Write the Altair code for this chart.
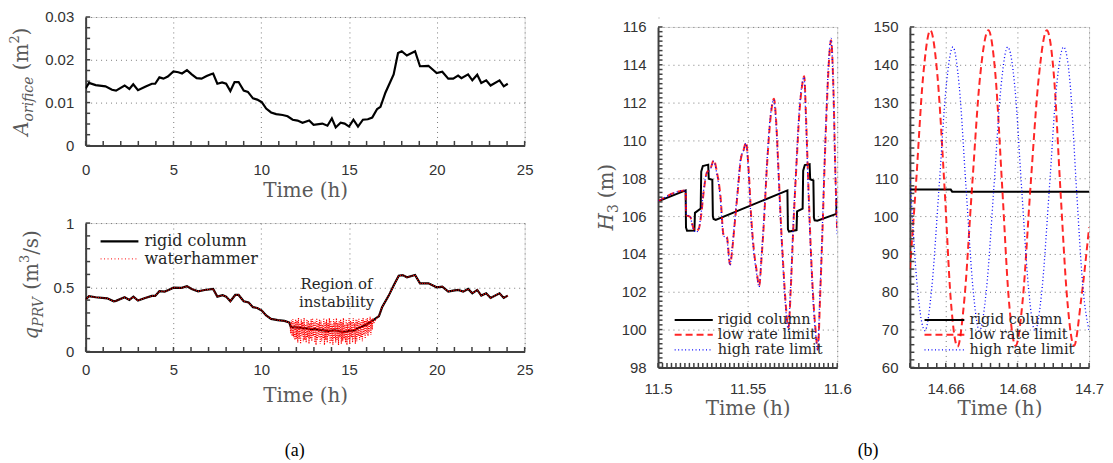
import altair as alt
import pandas as pd

# ---------------- (a) top: orifice area ----------------
a_time = [0, 0.19, 0.57, 1.13, 1.5, 1.73, 2.22, 2.49, 2.71, 2.98, 3.39, 3.77, 3.96, 4.2, 4.43, 4.68,
          5.0, 5.28, 5.49, 5.77, 6.04, 6.32, 6.6, 6.89, 7.17, 7.26, 7.5, 7.77, 8.0, 8.24, 8.48, 8.71,
          9.0, 9.24, 9.53, 9.77, 10.03, 10.28, 10.56, 10.85, 11.22, 11.5, 11.79, 12.07, 12.35, 12.73,
          12.98, 13.48, 13.77, 14.02, 14.24, 14.52, 14.75, 15.0, 15.25, 15.51, 15.79, 16.07, 16.32,
          16.6, 16.79, 17.07, 17.54, 17.79, 18.0, 18.29, 18.76, 19.04, 19.52, 19.99, 20.31, 20.65,
          20.93, 21.21, 21.4, 21.78, 22.02, 22.3, 22.53, 22.81, 23.06, 23.57, 23.81, 24.04]
a_area = [0.0133, 0.0146, 0.0141, 0.0138, 0.0130, 0.0128, 0.0140, 0.0132, 0.0143, 0.0129, 0.0137,
          0.0144, 0.0144, 0.0159, 0.0156, 0.0161, 0.0173, 0.0171, 0.0168, 0.0176, 0.0166, 0.0157,
          0.0156, 0.0162, 0.0167, 0.0168, 0.0144, 0.0147, 0.0144, 0.0127, 0.0148, 0.0148, 0.0128,
          0.0125, 0.0110, 0.0107, 0.0101, 0.0086, 0.0077, 0.0073, 0.0071, 0.0068, 0.0060, 0.0058,
          0.0053, 0.0058, 0.0048, 0.0051, 0.0046, 0.0063, 0.0042, 0.0053, 0.0051, 0.0044, 0.0060,
          0.0044, 0.0060, 0.0061, 0.0065, 0.0085, 0.0090, 0.0123, 0.0166, 0.0216, 0.0220, 0.0210,
          0.0220, 0.0185, 0.0186, 0.0169, 0.0172, 0.0156, 0.0156, 0.0163, 0.0157, 0.0166, 0.0152,
          0.0165, 0.0146, 0.0152, 0.0140, 0.0152, 0.0138, 0.0144]

# ---------------- (a) bottom: PRV flow ----------------
q_time = [0, 0.19, 0.57, 1.23, 1.6, 1.73, 2.22, 2.49, 2.72, 2.98, 3.39, 3.77, 3.96, 4.2, 4.5, 4.72,
          5.0, 5.47, 5.77, 6.04, 6.4, 6.78, 7.26, 7.5, 7.8, 8.0, 8.24, 8.52, 8.71, 9.0, 9.28, 9.53,
          9.77, 10.03, 10.28, 10.56, 10.94, 11.32, 11.6, 11.69, 12.2, 12.82, 13.3, 13.77, 14.2,
          14.71, 15.0, 15.28, 15.65, 16.0, 16.4, 16.6, 16.7, 16.88, 17.26, 17.54, 17.83, 18.05,
          18.3, 18.76, 19.04, 19.52, 19.99, 20.31, 20.65, 20.93, 21.21, 21.5, 21.78, 22.02, 22.3,
          22.53, 22.81, 23.06, 23.57, 23.81, 24.04]
q_rigid = [0.404, 0.430, 0.422, 0.414, 0.391, 0.394, 0.422, 0.402, 0.427, 0.396, 0.417, 0.433,
           0.433, 0.469, 0.466, 0.479, 0.497, 0.495, 0.508, 0.487, 0.469, 0.479, 0.487, 0.427,
           0.438, 0.427, 0.391, 0.440, 0.440, 0.391, 0.381, 0.345, 0.339, 0.319, 0.280, 0.254,
           0.244, 0.238, 0.225, 0.189, 0.185, 0.176, 0.170, 0.158, 0.165, 0.150, 0.160, 0.163,
           0.189, 0.210, 0.246, 0.265, 0.274, 0.344, 0.435, 0.513, 0.590, 0.595, 0.578, 0.595,
           0.531, 0.531, 0.500, 0.505, 0.466, 0.474, 0.479, 0.466, 0.487, 0.453, 0.479, 0.435,
           0.453, 0.417, 0.453, 0.417, 0.435]

# waterhammer oscillation inside the region of instability
wh_time = [11.64, 11.68, 11.72, 11.76, 11.80, 11.84, 11.88, 11.92, 11.96, 12.00,
           12.04, 12.08, 12.12, 12.16, 12.20, 12.24, 12.28, 12.32, 12.36, 12.40,
           12.44, 12.48, 12.52, 12.56, 12.60, 12.64, 12.68, 12.72, 12.76, 12.80,
           12.84, 12.88, 12.92, 12.96, 13.00, 13.04, 13.08, 13.12, 13.16, 13.20,
           13.24, 13.28, 13.32, 13.36, 13.40, 13.44, 13.48, 13.52, 13.56, 13.60,
           13.64, 13.68, 13.72, 13.76, 13.80, 13.84, 13.88, 13.92, 13.96, 14.00,
           14.04, 14.08, 14.12, 14.16, 14.20, 14.24, 14.28, 14.32, 14.36, 14.40,
           14.44, 14.48, 14.52, 14.56, 14.60, 14.64, 14.68, 14.72, 14.76, 14.80,
           14.84, 14.88, 14.92, 14.96, 15.00, 15.04, 15.08, 15.12, 15.16, 15.20,
           15.24, 15.28, 15.32, 15.36, 15.40, 15.44, 15.48, 15.52, 15.56, 15.60,
           15.64, 15.68, 15.72, 15.76, 15.80, 15.84, 15.88, 15.92, 15.96, 16.00,
           16.04, 16.08, 16.12, 16.16, 16.20, 16.24, 16.28, 16.32, 16.36, 16.40]
wh_q = [0.22, 0.14, 0.24, 0.12, 0.25, 0.11, 0.23, 0.09, 0.25, 0.10,
        0.24, 0.07, 0.26, 0.10, 0.22, 0.06, 0.25, 0.12, 0.23, 0.08,
        0.26, 0.09, 0.21, 0.07, 0.25, 0.11, 0.24, 0.06, 0.22, 0.10,
        0.25, 0.08, 0.26, 0.12, 0.23, 0.07, 0.24, 0.05, 0.26, 0.09,
        0.22, 0.11, 0.25, 0.06, 0.24, 0.08, 0.21, 0.10, 0.26, 0.05,
        0.23, 0.09, 0.25, 0.07, 0.22, 0.12, 0.26, 0.06, 0.24, 0.08,
        0.21, 0.05, 0.25, 0.10, 0.23, 0.07, 0.26, 0.09, 0.22, 0.05,
        0.24, 0.11, 0.25, 0.06, 0.23, 0.08, 0.26, 0.10, 0.21, 0.07,
        0.25, 0.05, 0.22, 0.09, 0.26, 0.06, 0.24, 0.11, 0.23, 0.07,
        0.26, 0.10, 0.22, 0.06, 0.25, 0.08, 0.24, 0.12, 0.26, 0.09,
        0.23, 0.11, 0.25, 0.08, 0.26, 0.13, 0.24, 0.10, 0.25, 0.14,
        0.26, 0.12, 0.24, 0.15, 0.27, 0.13, 0.25, 0.17, 0.26, 0.22]

# ---------------- (b) left: t = 11.5 .. 11.6 h ----------------
b1_rigid_t = [11.5000, 11.5154, 11.5156, 11.5162, 11.5203, 11.5206, 11.5238, 11.5241, 11.5250,
              11.5280, 11.5283, 11.5303, 11.5306, 11.5310, 11.5322, 11.5722, 11.5725, 11.5731,
              11.5773, 11.5776, 11.5807, 11.5810, 11.5819, 11.5846, 11.5849, 11.5867, 11.5870,
              11.5874, 11.5889, 11.5995, 11.5997]
b1_rigid_h = [106.78, 107.36, 105.40, 105.22, 105.24, 106.17, 106.40, 108.35, 108.65, 108.72,
              107.97, 107.92, 105.98, 105.85, 105.80, 107.36, 105.30, 105.18, 105.26, 106.25,
              106.40, 108.40, 108.70, 108.74, 107.95, 107.88, 105.92, 105.78, 105.76, 106.12,
              106.96]
b1_low_t = [11.5000, 11.5154, 11.5157, 11.5180, 11.5196, 11.5213, 11.5228, 11.5240, 11.5255,
            11.5272, 11.5292, 11.5312, 11.5328, 11.5348, 11.5366, 11.5384, 11.5402, 11.5415,
            11.5426, 11.5444, 11.5462, 11.5478, 11.5491, 11.5506, 11.5519, 11.5535, 11.5549,
            11.5565, 11.5577, 11.5590, 11.5609, 11.5628, 11.5647, 11.5660, 11.5672, 11.5686,
            11.5700, 11.5713, 11.5728, 11.5741, 11.5756, 11.5772, 11.5790, 11.5804, 11.5816,
            11.5826, 11.5838, 11.5852, 11.5866, 11.5880, 11.5892, 11.5904, 11.5917, 11.5930,
            11.5944, 11.5956, 11.5966, 11.5978, 11.5990, 11.6000]
b1_low_h = [106.78, 107.36, 106.05, 105.95, 105.40, 105.20, 105.35, 106.00, 107.30, 108.30,
            108.50, 108.96, 108.35, 107.10, 105.00, 104.90, 103.45, 104.30, 105.40, 107.20,
            109.00, 109.50, 109.90, 108.40, 106.10, 104.20, 103.20, 102.30, 103.70, 105.50,
            108.80, 111.20, 112.20, 110.90, 108.50, 105.60, 103.20, 101.30, 100.10, 102.20,
            105.60, 108.60, 111.60, 112.90, 113.40, 111.20, 107.90, 104.40, 101.70, 99.90,
            98.95, 101.60, 105.00, 108.80, 112.30, 114.50, 115.30, 113.00, 108.20, 105.20]
b1_high_t = [11.5000, 11.5154, 11.5157, 11.5180, 11.5195, 11.5212, 11.5227, 11.5239, 11.5254,
             11.5271, 11.5291, 11.5310, 11.5327, 11.5347, 11.5365, 11.5383, 11.5401, 11.5414,
             11.5425, 11.5443, 11.5461, 11.5477, 11.5490, 11.5505, 11.5518, 11.5534, 11.5548,
             11.5564, 11.5576, 11.5589, 11.5608, 11.5627, 11.5646, 11.5659, 11.5671, 11.5685,
             11.5699, 11.5712, 11.5727, 11.5740, 11.5755, 11.5771, 11.5789, 11.5803, 11.5815,
             11.5825, 11.5837, 11.5851, 11.5865, 11.5879, 11.5891, 11.5903, 11.5916, 11.5929,
             11.5943, 11.5955, 11.5965, 11.5977, 11.5989, 11.6000]
b1_high_h = [106.78, 107.36, 106.10, 105.95, 105.35, 105.15, 105.30, 106.05, 107.35, 108.25,
             108.45, 108.90, 108.30, 107.00, 104.95, 104.85, 103.40, 104.35, 105.45, 107.30,
             109.05, 109.45, 109.85, 108.30, 106.00, 104.10, 103.10, 102.25, 103.75, 105.60,
             108.90, 111.30, 112.15, 110.80, 108.40, 105.50, 103.10, 101.20, 100.00, 102.30,
             105.70, 108.70, 111.70, 112.95, 113.35, 111.10, 107.80, 104.30, 101.60, 99.80,
             98.90, 101.70, 105.10, 108.90, 112.40, 114.60, 115.40, 113.10, 108.30, 105.00]

# ---------------- (b) right: t = 14.65 .. 14.7 h ----------------
b2_rigid_t = [14.6500, 14.6614, 14.6618, 14.7000]
b2_rigid_h = [107.0, 107.0, 106.45, 106.45]
b2_low_t = [14.6500, 14.6516, 14.6537, 14.6557, 14.6577, 14.6597, 14.6614, 14.6633, 14.6652,
            14.6673, 14.6696, 14.6719, 14.6739, 14.6758, 14.6776, 14.6795, 14.6815, 14.6836,
            14.6860, 14.6882, 14.6902, 14.6920, 14.6939, 14.6958, 14.6978, 14.7000]
b2_low_h = [86.0, 107.0, 137.0, 149.1, 137.0, 107.0, 78.0, 65.5, 78.0, 107.0, 137.0, 149.1, 137.0,
            107.0, 78.0, 65.7, 78.0, 107.0, 137.0, 149.1, 137.0, 107.0, 78.0, 65.7, 78.0, 97.0]
b2_high_t = [14.6500, 14.6521, 14.6542, 14.6561, 14.6581, 14.6601, 14.6620, 14.6638, 14.6657,
             14.6676, 14.6694, 14.6714, 14.6734, 14.6754, 14.6773, 14.6793, 14.6812, 14.6831,
             14.6849, 14.6869, 14.6889, 14.6909, 14.6929, 14.6948, 14.6965, 14.6983, 14.7000]
b2_high_h = [111.0, 81.0, 69.7, 81.0, 107.0, 134.0, 144.7, 134.0, 107.0, 81.0, 69.7, 81.0, 107.0,
             134.0, 144.7, 134.0, 107.0, 81.0, 69.7, 81.0, 107.0, 134.0, 144.7, 134.0, 107.0,
             81.0, 69.7]

# ---------------- styling ----------------
SERIF = "DejaVu Serif"
SANS = "Liberation Sans"
AXC = "#404040"
LBL = "#333333"
TTL = "#595959"
ONE = pd.DataFrame({"k": [0]})
WID = {"A": 0.722, "o": 0.602, "r": 0.478, "i": 0.320, "f": 0.370, "c": 0.560, "e": 0.592,
       "(": 0.390, ")": 0.390, "m": 0.948, "2": 0.636, "3": 0.636, "q": 0.640, "P": 0.733,
       "R": 0.770, "V": 0.722, "/": 0.337, "s": 0.514, "H": 0.872}


def frame(t, v):
    return pd.DataFrame({"t": t, "v": v, "i": list(range(len(t)))})


def xaxis(values, label_pad, title_y):
    return alt.Axis(values=values, format="~r", title="Time (h)", grid=True, gridColor="#7a7a7a",
                    gridDash=[1, 4], gridWidth=1, domainColor=AXC, domainWidth=2, ticks=False,
                    tickSize=0, labelFont=SANS, labelFontSize=15, labelColor=LBL,
                    labelPadding=label_pad, labelFlush=False, labelOverlap=False,
                    titleFont=SERIF, titleFontSize=20, titleFontWeight="normal", titleColor=TTL,
                    titleY=title_y, titleBaseline="alphabetic")


def yaxis(values):
    return alt.Axis(values=values, format="~r", title=None, grid=True, gridColor="#7a7a7a",
                    gridDash=[1, 4], gridWidth=1, domainColor=AXC, domainWidth=2, ticks=False,
                    tickSize=0, labelFont=SANS, labelFontSize=15, labelColor=LBL,
                    labelPadding=12, labelFlush=False, labelOverlap=False)


def line(df, xs, ys, xa, ya, **mk):
    return alt.Chart(df).mark_line(clip=True, **mk).encode(
        x=alt.X("t:Q", scale=xs, axis=xa), y=alt.Y("v:Q", scale=ys, axis=ya),
        order=alt.Order("i:Q"))


def xticks(vals, xs, xa, h):
    return alt.Chart(pd.DataFrame({"t": vals})).mark_rule(color=AXC, strokeWidth=1.5).encode(
        x=alt.X("t:Q", scale=xs, axis=xa), y=alt.value(h), y2=alt.value(h - 4.5))


def yticks(vals, ys, ya):
    return alt.Chart(pd.DataFrame({"v": vals})).mark_rule(color=AXC, strokeWidth=1.5).encode(
        y=alt.Y("v:Q", scale=ys, axis=ya), x=alt.value(0), x2=alt.value(4.5))


def txt(s, x, y, size=15, font=SERIF, color="#262626", align="left", baseline="middle",
        angle=0, style="normal"):
    kw = dict(text=s, fontSize=size, font=font, color=color, align=align, baseline=baseline,
              fontStyle=style)
    if angle:
        kw["angle"] = angle
    return alt.Chart(ONE).mark_text(**kw).encode(x=alt.value(x), y=alt.value(y))


def hrule(x1, x2, y, **mk):
    return alt.Chart(ONE).mark_rule(**mk).encode(x=alt.value(x1), x2=alt.value(x2), y=alt.value(y))


def rot_title(pieces, xb, yc):
    # pieces: (text, italic, size, perpendicular shift, gap before)
    lens = [sum(WID.get(c, 0.6) for c in p[0]) * p[2] + p[4] for p in pieces]
    y = yc + sum(lens) / 2
    out = []
    for (s, it, size, shift, gap), L in zip(pieces, lens):
        y -= gap
        out.append(txt(s, xb + shift, y, size=size, color=TTL, align="left",
                       baseline="alphabetic", angle=270, style="italic" if it else "normal"))
        y -= L - gap
    return out


# ---------------- (a) top panel ----------------
WL, HT, HB = 441, 129, 129
xs_a = alt.Scale(domain=[0, 25], nice=False, zero=False)
xa_a = xaxis([0, 5, 10, 15, 20, 25], 17, 51)
ys_t = alt.Scale(domain=[0, 0.03], nice=False, zero=False)
ya_t = yaxis([0, 0.01, 0.02, 0.03])
top = alt.layer(
    line(frame(a_time, a_area), xs_a, ys_t, xa_a, ya_t, color="black", strokeWidth=2.2),
    xticks([k for k in range(0, 26)], xs_a, xa_a, HT),
    yticks([k * 0.0025 for k in range(0, 13)], ys_t, ya_t),
    *rot_title([("A", True, 20, 0, 0), ("orifice", True, 14, 5, 0), ("(m", False, 20, 0, 6),
                ("2", False, 13, -9, 0), (")", False, 20, 0, 0)], -58, 65),
).properties(width=WL, height=HT)

# ---------------- (a) bottom panel ----------------
ys_b = alt.Scale(domain=[0, 1], nice=False, zero=False)
ya_b = yaxis([0, 0.5, 1])
xa_b = xaxis([0, 5, 10, 15, 20, 25], 11, 50)
wh_t = [t for t in q_time if t < 11.62] + wh_time + [t for t in q_time if t > 16.42]
wh_v = [v for t, v in zip(q_time, q_rigid) if t < 11.62] + wh_q + \
       [v for t, v in zip(q_time, q_rigid) if t > 16.42]
bottom = alt.layer(
    line(frame(q_time, q_rigid), xs_a, ys_b, xa_b, ya_b, color="black", strokeWidth=2.2),
    line(frame(wh_t, wh_v), xs_a, ys_b, xa_b, ya_b, color="#ff0000", strokeWidth=1.2,
         strokeDash=[1, 1.3]),
    xticks([k for k in range(0, 26)], xs_a, xa_b, HB),
    yticks([k * 0.1 for k in range(0, 11)], ys_b, ya_b),
    hrule(15, 53, 18.4, color="black", strokeWidth=2.2),
    hrule(15, 53, 36, color="#ff0000", strokeWidth=1, strokeDash=[1, 2.5]),
    txt("rigid column", 59, 18.4, size=16),
    txt("waterhammer", 59, 36, size=16),
    txt("Region of", 252, 61, size=15, align="center"),
    txt("instability", 252, 79.5, size=15, align="center"),
    txt("(a)", 210, 229, size=18, font="Liberation Serif", color="black", align="center"),
    *rot_title([("q", True, 20, 0, 0), ("PRV", True, 14, 5, 0), ("(m", False, 20, 0, 6),
                ("3", False, 13, -9, 0), ("/s)", False, 20, 0, 0)], -48, 62),
).properties(width=WL, height=HB)

left = alt.vconcat(top, bottom, spacing=78, bounds="flush")

# ---------------- (b) panels ----------------
WR, HR = 180, 342
LEG = 14.5
xs_1 = alt.Scale(domain=[11.5, 11.6], nice=False, zero=False)
xa_1 = xaxis([11.5, 11.55, 11.6], 14, 47)
ys_1 = alt.Scale(domain=[98, 116], nice=False, zero=False)
ya_1 = yaxis(list(range(98, 117, 2)))
r1 = alt.layer(
    line(frame(b1_rigid_t, b1_rigid_h), xs_1, ys_1, xa_1, ya_1, color="black", strokeWidth=2),
    line(frame(b1_low_t, b1_low_h), xs_1, ys_1, xa_1, ya_1, color="#ff0000", strokeWidth=2,
         strokeDash=[7, 4], interpolate="monotone", opacity=0.85),
    line(frame(b1_high_t, b1_high_h), xs_1, ys_1, xa_1, ya_1, color="#0000ff", strokeWidth=1.3,
         strokeDash=[1, 2.5], interpolate="monotone"),
    xticks([11.5 + k * 0.0025 for k in range(0, 41)], xs_1, xa_1, HR),
    yticks([98 + k * 0.25 for k in range(0, 73)], ys_1, ya_1),
    hrule(16.7, 55, 294.3, color="black", strokeWidth=2),
    hrule(16.7, 55, 309.3, color="#ff0000", strokeWidth=2, strokeDash=[7, 4], opacity=0.85),
    hrule(16.7, 55, 324.3, color="#0000ff", strokeWidth=1.3, strokeDash=[1, 2.5]),
    txt("rigid column", 60, 294.3, size=LEG),
    txt("low rate limit", 60, 309.3, size=LEG),
    txt("high rate limit", 60, 324.3, size=LEG),
    txt("(b)", 211, 426, size=18, font="Liberation Serif", color="black", align="center"),
    *rot_title([("H", True, 20, 0, 0), ("3", False, 14, 5, 0), ("(m)", False, 20, 0, 6)], -45, 171),
).properties(width=WR, height=HR)

xs_2 = alt.Scale(domain=[14.65, 14.7], nice=False, zero=False)
xa_2 = xaxis([14.66, 14.68, 14.7], 14, 47)
ys_2 = alt.Scale(domain=[60, 150], nice=False, zero=False)
ya_2 = yaxis(list(range(60, 151, 10)))
r2 = alt.layer(
    line(frame(b2_rigid_t, b2_rigid_h), xs_2, ys_2, xa_2, ya_2, color="black", strokeWidth=2),
    line(frame(b2_low_t, b2_low_h), xs_2, ys_2, xa_2, ya_2, color="#ff0000", strokeWidth=2,
         strokeDash=[7, 4], interpolate="monotone", opacity=0.85),
    line(frame(b2_high_t, b2_high_h), xs_2, ys_2, xa_2, ya_2, color="#0000ff", strokeWidth=1.3,
         strokeDash=[1, 2.5], interpolate="monotone"),
    xticks([14.65 + k * 0.0025 for k in range(0, 21)], xs_2, xa_2, HR),
    yticks([60 + k * 2 for k in range(0, 46)], ys_2, ya_2),
    hrule(14.7, 54.7, 294.3, color="black", strokeWidth=2),
    hrule(14.7, 54.7, 309.3, color="#ff0000", strokeWidth=2, strokeDash=[7, 4], opacity=0.85),
    hrule(14.7, 54.7, 324.3, color="#0000ff", strokeWidth=1.3, strokeDash=[1, 2.5]),
    txt("rigid column", 60, 294.3, size=LEG),
    txt("low rate limit", 60, 309.3, size=LEG),
    txt("high rate limit", 60, 324.3, size=LEG),
).properties(width=WR, height=HR)

spacer = alt.Chart(ONE).mark_text(text=" ").encode(x=alt.value(0), y=alt.value(0)).properties(
    width=1, height=1)
right = alt.vconcat(spacer, alt.hconcat(r1, r2, spacing=73, bounds="flush"), spacing=9,
                    bounds="flush")

chart = alt.hconcat(left, right, spacing=63).properties(
    padding={"left": 0, "top": 0, "right": 0, "bottom": 0}
).configure_view(stroke=None).configure(background="white")

chart.save("out.html", embed_options={"renderer": "svg", "actions": False})
